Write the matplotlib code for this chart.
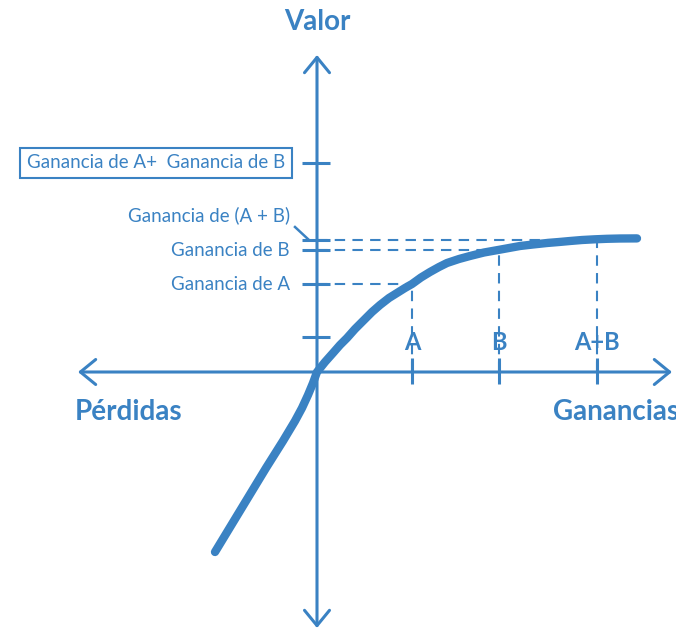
import matplotlib
matplotlib.use("Agg")
import matplotlib.pyplot as plt

plt.rcParams['font.family'] = ['Lato', 'DejaVu Sans']

C = '#3a82c3'

# value curve (x = gains/losses, y = value)
curve_x = [-102, -85, -68, -51, -34, -22, -15, -9, -4, 0, 8, 16, 23, 30, 38, 46, 55, 63, 72, 80, 88, 95,
           104, 113, 122, 130, 142, 153, 167, 181, 192, 203, 216, 230, 242, 253, 265, 278, 290, 303, 320]
curve_y = [-180, -152, -124, -96, -69, -49, -36, -23, -11, 0, 10, 19, 27, 34, 43, 51, 60, 67, 74, 79, 84, 88,
           94.5, 100, 105, 109, 113, 116, 119.5, 122, 124, 126, 127.5, 129, 130, 131, 132, 132.7, 133.2, 133.5, 133.6]

# points on the x axis and their values
x_labels = ['A', 'B', 'A+B']
x_points = [95, 182, 280]
y_values = [88, 122, 132]
y_labels = ['Ganancia de A', 'Ganancia de B', 'Ganancia de (A + B)']
sum_value = 209
sum_label = 'Ganancia de A+  Ganancia de B'
extra_tick = 35

fig = plt.figure(figsize=(6.76, 6.32), dpi=100)
ax = fig.add_axes([0, 0, 1, 1])
ax.set_xlim(-317, 359)
ax.set_ylim(-260, 372)
ax.axis('off')

# axes with arrows
ap = dict(arrowstyle='<->,head_length=0.55,head_width=0.45', color=C, lw=2.2,
          shrinkA=0, shrinkB=0, mutation_scale=20)
ax.annotate('', xy=(355, 0), xytext=(-239, 0), arrowprops=ap)
ax.annotate('', xy=(0, 317), xytext=(0, -256), arrowprops=ap)

# x ticks
for xp in x_points:
    ax.plot([xp, xp], [-12, 14], color=C, lw=2.2, solid_capstyle='butt')
# y ticks
for yv in y_values + [sum_value, extra_tick]:
    ax.plot([-15, 13], [yv, yv], color=C, lw=2.2, solid_capstyle='butt')

# dashed guides
for xp, yv in zip(x_points, y_values):
    ax.plot([0, xp], [yv, yv], color=C, lw=1.5, ls=(0, (5, 3.5)))
    ax.plot([xp, xp], [0, yv], color=C, lw=1.5, ls=(0, (5, 3.5)))

# curve
ax.plot(curve_x, curve_y, color=C, lw=6, solid_capstyle='round', solid_joinstyle='round')

# x labels
for xp, lab in zip(x_points, x_labels):
    ax.text(xp, 30, lab, color=C, fontsize=17, fontweight='bold', ha='center', va='center')

# y labels
FS = 13.5
ax.text(-27, y_values[0], y_labels[0], color=C, fontsize=FS, ha='right', va='center')
ax.text(-27, y_values[1], y_labels[1], color=C, fontsize=FS, ha='right', va='center')
ax.text(-27, 157, y_labels[2], color=C, fontsize=FS, ha='right', va='center')
ax.plot([-22, -8], [145, 132], color=C, lw=1.8)

ax.text(-161, sum_value, sum_label, color=C, fontsize=FS, ha='center', va='center',
        bbox=dict(boxstyle='square,pad=0.35', fc='white', ec=C, lw=1.5))

ax.text(0, 350, 'Valor', color=C, fontsize=20, fontweight='bold', ha='center', va='center')
ax.text(-188, -40, 'Pérdidas', color=C, fontsize=20, fontweight='bold', ha='center', va='center')
ax.text(236, -40, 'Ganancias', color=C, fontsize=20, fontweight='bold', ha='left', va='center')

fig.savefig('out.png', dpi=100)
